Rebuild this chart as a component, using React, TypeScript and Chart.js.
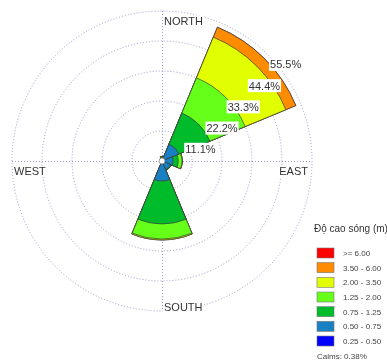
import React, { useEffect, useRef } from "react";
import { Chart, registerables } from "chart.js";

Chart.register(...registerables);

// Direction sectors, clockwise from north
const DIRECTIONS = ["N", "NE", "E", "SE", "S", "SW", "W", "NW"];

// Frequency (%) of each wave-height class per direction
const H_025_050 = [0.2, 0.3, 0.1, 0.1, 0.2, 0.3, 0.2, 0.3];
const H_050_075 = [0.6, 6.4, 4.0, 3.3, 7.2, 0.4, 0.2, 0.3];
const H_075_125 = [0.4, 12.5, 1.9, 0.3, 15.9, 0, 0, 0];
const H_125_200 = [0.3, 14.1, 1.4, 0, 5.6, 0, 0, 0];
const H_200_350 = [0.2, 16.3, 0.1, 0, 0.3, 0, 0, 0];
const H_350_600 = [0, 4.0, 0, 0, 0, 0, 0, 0];
const H_600_UP = [0, 0, 0, 0, 0, 0, 0, 0];

const CLASS_LABELS = [
  "0.25 - 0.50",
  "0.50 - 0.75",
  "0.75 - 1.25",
  "1.25 - 2.00",
  "2.00 - 3.50",
  "3.50 - 6.00",
  ">= 6.00",
];
const CLASS_COLORS = ["#0000ff", "#1a80c4", "#00bb2a", "#66ff1a", "#e2ff00", "#ff8c00", "#ff0000"];

const RING_VALUES = [11.1, 22.2, 33.3, 44.4, 55.5];
const CARDINALS = ["NORTH", "EAST", "SOUTH", "WEST"];
const LEGEND_TITLE = "Độ cao sóng (m)";
const CALMS_TEXT = "Calms: 0.38%";

const GRID_COLOR = "#9898cc";
const TEXT_COLOR = "#333333";
const FONT = "'Liberation Sans', Arial, sans-serif";

const CLASSES = [H_025_050, H_050_075, H_075_125, H_125_200, H_200_350, H_350_600, H_600_UP];

// Stacked rose: each dataset holds the running total up to its class,
// so the first (innermost) dataset is painted last, on top.
function cumulative(): number[][] {
  const out: number[][] = [];
  let run = DIRECTIONS.map(() => 0);
  CLASSES.forEach((cls) => {
    run = run.map((v, i) => +(v + cls[i]).toFixed(2));
    out.push(run.slice());
  });
  return out;
}

const roseDecor = {
  id: "roseDecor",
  beforeDatasetsDraw(chart: any) {
    const r = chart.scales.r;
    const ctx = chart.ctx as CanvasRenderingContext2D;
    const cx = r.xCenter;
    const cy = r.yCenter;
    const R = r.getDistanceFromCenterForValue(r.max);
    ctx.save();
    ctx.strokeStyle = GRID_COLOR;
    ctx.lineWidth = 1;
    ctx.setLineDash([1, 2]);
    ctx.beginPath();
    ctx.moveTo(cx + 0.5, cy - R);
    ctx.lineTo(cx + 0.5, cy + R);
    ctx.moveTo(cx - R, cy + 0.5);
    ctx.lineTo(cx + R, cy + 0.5);
    ctx.stroke();
    ctx.restore();
  },
  afterDatasetsDraw(chart: any) {
    const r = chart.scales.r;
    const ctx = chart.ctx as CanvasRenderingContext2D;
    const cx = r.xCenter;
    const cy = r.yCenter;
    const R = r.getDistanceFromCenterForValue(r.max);
    ctx.save();

    // calms circle
    ctx.beginPath();
    ctx.arc(cx, cy, 3, 0, Math.PI * 2);
    ctx.fillStyle = "#ffffff";
    ctx.fill();
    ctx.lineWidth = 0.7;
    ctx.strokeStyle = "#777777";
    ctx.stroke();

    // ring labels along the north-east diagonal
    ctx.font = `11px ${FONT}`;
    ctx.textAlign = "left";
    ctx.textBaseline = "alphabetic";
    RING_VALUES.forEach((v) => {
      const d = r.getDistanceFromCenterForValue(v);
      const px = cx + d * Math.SQRT1_2;
      const py = cy - d * Math.SQRT1_2;
      const txt = v.toFixed(1) + "%";
      const w = ctx.measureText(txt).width;
      ctx.fillStyle = "#ffffff";
      ctx.fillRect(px + 1, py + 3, w + 2, 13);
      ctx.fillStyle = TEXT_COLOR;
      ctx.fillText(txt, px + 2, py + 13.5);
    });

    // compass labels
    const place = (txt: string, x: number, y: number, align: CanvasTextAlign) => {
      ctx.textAlign = align;
      const w = ctx.measureText(txt).width;
      const left = align === "right" ? x - w : x;
      ctx.fillStyle = "#ffffff";
      ctx.fillRect(left - 1, y - 9, w + 2, 11);
      ctx.fillStyle = TEXT_COLOR;
      ctx.fillText(txt, x, y);
    };
    place(CARDINALS[0], cx + 2, cy - R + 13.5, "left");
    place(CARDINALS[1], cx + R - 4, cy + 14, "right");
    place(CARDINALS[2], cx + 2, cy + R, "left");
    place(CARDINALS[3], cx - R + 2, cy + 14, "left");
    ctx.restore();
  },
  afterDraw(chart: any) {
    const ctx = chart.ctx as CanvasRenderingContext2D;
    ctx.save();
    ctx.fillStyle = TEXT_COLOR;
    ctx.textAlign = "left";
    ctx.textBaseline = "alphabetic";
    ctx.font = `10px ${FONT}`;
    ctx.fillText(LEGEND_TITLE, 314, 231.5);

    ctx.font = `8px ${FONT}`;
    const n = CLASS_LABELS.length;
    for (let row = 0; row < n; row++) {
      const k = n - 1 - row;
      const yc = 253 + row * 14.67;
      ctx.fillStyle = CLASS_COLORS[k];
      ctx.fillRect(317, yc - 5, 17, 10);
      ctx.strokeStyle = "#777777";
      ctx.lineWidth = 0.6;
      ctx.strokeRect(317, yc - 5, 17, 10);
      ctx.fillStyle = "#444444";
      ctx.fillText(CLASS_LABELS[k], 343, yc + 3);
    }
    ctx.fillText(CALMS_TEXT, 317, 359);
    ctx.restore();
  },
};

export default function App() {
  const ref = useRef<HTMLCanvasElement>(null);

  useEffect(() => {
    const stacks = cumulative();
    const chart = new Chart(ref.current as HTMLCanvasElement, {
      type: "polarArea",
      data: {
        labels: DIRECTIONS,
        datasets: stacks.map((data, k) => ({
          label: CLASS_LABELS[k],
          data,
          backgroundColor: CLASS_COLORS[k],
          borderColor: "#3a3a3a",
          borderWidth: 0.7,
        })),
      },
      options: {
        responsive: false,
        animation: false,
        devicePixelRatio: 1,
        layout: { padding: { left: 12, right: 75, top: 11, bottom: 49 } },
        plugins: {
          legend: { display: false },
          tooltip: { enabled: false },
        },
        scales: {
          r: {
            min: 0,
            max: 55.5,
            startAngle: -22.5,
            ticks: { display: false, stepSize: 11.1 },
            grid: { color: GRID_COLOR, lineWidth: 1, circular: true },
            border: { dash: [1, 2] },
            angleLines: { display: false },
            pointLabels: { display: false },
            afterBuildTicks: (scale: any) => {
              scale.ticks = [0, ...RING_VALUES].map((value) => ({ value }));
            },
          },
        },
      } as any,
      plugins: [roseDecor],
    });
    return () => chart.destroy();
  }, []);

  return (
    <div style={{ position: "absolute", left: 0, top: 0, width: 387, height: 360, background: "#ffffff" }}>
      <canvas ref={ref} width={387} height={360} style={{ display: "block" }} />
    </div>
  );
}
